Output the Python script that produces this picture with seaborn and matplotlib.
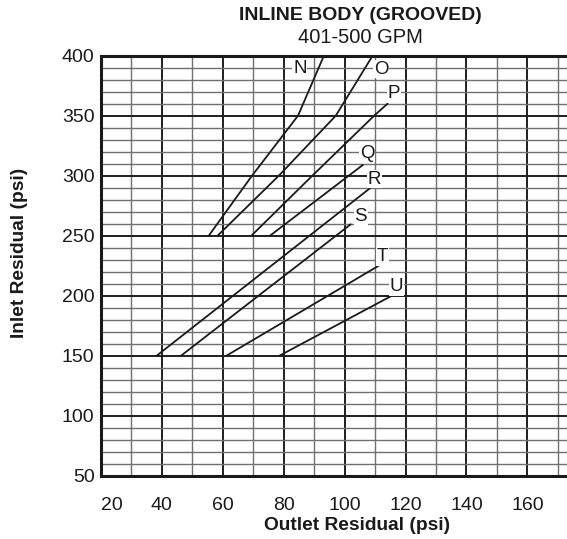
import matplotlib.pyplot as plt
import matplotlib.ticker as mticker
import pandas as pd
import seaborn as sns

# Curve data (outlet psi, inlet psi)
curve_names = ["N", "O", "P", "Q", "R", "S", "T", "U"]
outlet_N = [55.4, 69.6, 84.7, 93.2]
inlet_N = [250, 300, 350, 400]
outlet_O = [58.3, 78.4, 97.1, 109.2]
inlet_O = [250, 300, 350, 400]
outlet_P = [69.4, 89.4, 109.7, 114.1]
inlet_P = [250, 300, 350, 360]
outlet_Q = [75.5, 106.0]
inlet_Q = [250, 309]
outlet_R = [38.3, 108.3]
inlet_R = [150, 289.5]
outlet_S = [46.3, 102.0]
inlet_S = [150, 259.5]
outlet_T = [61.2, 111.2]
inlet_T = [150, 225]
outlet_U = [78.6, 115.5]
inlet_U = [150, 200]

# Letter label positions
label_x = [85.3, 111.9, 116.1, 107.5, 109.7, 105.3, 112.5, 116.9]
label_y = [389, 388.7, 368.7, 318.7, 297.2, 265.8, 232.5, 207.5]

x_ticks = [20, 40, 60, 80, 100, 120, 140, 160]
y_ticks = [50, 100, 150, 200, 250, 300, 350, 400]

outlets = [outlet_N, outlet_O, outlet_P, outlet_Q, outlet_R, outlet_S, outlet_T, outlet_U]
inlets = [inlet_N, inlet_O, inlet_P, inlet_Q, inlet_R, inlet_S, inlet_T, inlet_U]
rows = []
for name, xs, ys in zip(curve_names, outlets, inlets):
    for x, y in zip(xs, ys):
        rows.append({"curve": name, "outlet": x, "inlet": y})
df = pd.DataFrame(rows)

sns.set_style("white")
plt.rcParams["font.family"] = ["Liberation Sans", "DejaVu Sans"]

fig = plt.figure(figsize=(5.67, 5.39), dpi=100)
ax = fig.add_axes([0.178, 0.1174, 0.822, 0.7793])

sns.lineplot(data=df, x="outlet", y="inlet", units="curve", estimator=None,
             sort=False, color="#1a1a1a", linewidth=1.3, ax=ax, legend=False)

ax.set_xlim(20, 173)
ax.set_ylim(50, 400)
ax.xaxis.set_major_locator(mticker.FixedLocator(x_ticks))
ax.xaxis.set_minor_locator(mticker.MultipleLocator(10))
ax.yaxis.set_major_locator(mticker.FixedLocator(y_ticks))
ax.yaxis.set_minor_locator(mticker.MultipleLocator(10))

# Grid: dark major lines, grey minor lines
ax.grid(which="minor", color="#707070", linewidth=1.0)
ax.grid(which="major", color="#1e1e1e", linewidth=1.4)
ax.set_axisbelow(True)

for side in ["left", "bottom", "top"]:
    ax.spines[side].set_color("#1a1a1a")
    ax.spines[side].set_linewidth(2.2)
ax.spines["right"].set_visible(False)

ax.tick_params(which="major", direction="out", length=3.6, width=1.3,
               color="#1a1a1a", labelsize=14, labelcolor="#1a1a1a")
ax.tick_params(axis="x", pad=12)
ax.tick_params(axis="y", pad=1)
ax.tick_params(which="minor", length=0)
ax.set_xticklabels([str(v) for v in x_ticks])
ax.set_yticklabels([str(v) for v in y_ticks])
ax.get_xticklabels()[0].set_horizontalalignment("left")

for name, lx, ly in zip(curve_names, label_x, label_y):
    ax.text(lx, ly, name, fontsize=13.5, ha="center", va="center", color="#1a1a1a",
            bbox=dict(facecolor="white", edgecolor="none", pad=0.6))

ax.set_xlabel("Outlet Residual (psi)", fontsize=13.8, fontweight="bold", color="#1a1a1a")
ax.set_ylabel("Inlet Residual (psi)", fontsize=13.8, fontweight="bold", color="#1a1a1a")
ax.xaxis.set_label_coords(0.549, -0.098)
ax.yaxis.set_label_coords(-0.157, 0.531)

fig.text(0.635, 0.972, "INLINE BODY (GROOVED)", fontsize=14, fontweight="bold",
         ha="center", va="center", color="#1a1a1a")
fig.text(0.635, 0.931, "401-500 GPM", fontsize=14.5, ha="center", va="center",
         color="#1a1a1a")

fig.savefig("out.png", dpi=100)
